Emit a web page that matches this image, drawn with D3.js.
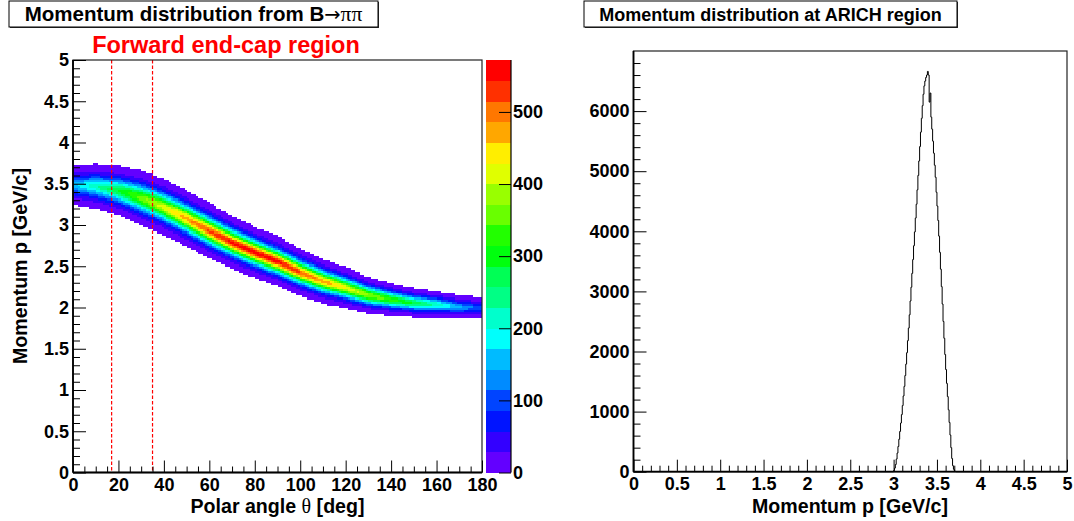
<!DOCTYPE html>
<html><head><meta charset="utf-8">
<script src="https://cdn.jsdelivr.net/npm/d3@7"></script>
<style>
body{margin:0;background:#fff}
svg text{font-family:"Liberation Sans",Arial,Helvetica,sans-serif;font-weight:bold;fill:#000}
</style>
</head><body>
<svg id="c" width="1074" height="521"></svg>
<script>
// ---------------- data ----------------
// Left: 2D histogram p vs theta, described column by column
const thetaNodes   = [0,10,20,30,40,50,60,70,80,90,100,110,120,130,140,150,160,170,180];
const ridgeMomentum= [3.485,3.47,3.42,3.33,3.22,3.08,2.93,2.79,2.67,2.56,2.43,2.32,2.24,2.15,2.10,2.06,2.04,2.01,2.00];
const bandHalfWidth= [0.235,0.27,0.30,0.33,0.34,0.34,0.335,0.32,0.31,0.30,0.285,0.27,0.245,0.22,0.195,0.175,0.16,0.14,0.13];
const peakCounts   = [160,220,290,360,420,480,520,550,560,555,520,480,430,380,330,280,220,150,90];
const thetaBinWidth = 1;      // deg
const pBinWidth = 0.025;      // GeV/c
const edgeCount = 4;          // lowest visible bin content
const zMax = 572;
const nLevels = 20;
const forwardCut = [17, 35];

const thetaMajor = [0,20,40,60,80,100,120,140,160,180];
const pMajor = [0,0.5,1,1.5,2,2.5,3,3.5,4,4.5,5];
const zMajor = [0,100,200,300,400,500];

// Right: 1D histogram of momentum in ARICH region
const arichStart = 3.00, arichWidth = 0.01;
const arichCounts = [20,60,120,210,310,420,540,670,810,950,
  1100,1260,1420,1600,1790,1980,2180,2390,2610,2840,
  3070,3300,3530,3760,3990,4220,4450,4690,4930,5170,
  5410,5650,5880,6090,6280,6420,6500,6560,6600,6660,
  6600,6150,6300,5900,5700,5500,5300,5100,4900,4650,
  4420,4180,3920,3650,3370,3080,2790,2500,2220,1950,
  1700,1470,1250,1030,820,610,400,220,100,40,12,3];
const momMajor = [0,0.5,1,1.5,2,2.5,3,3.5,4,4.5,5];
const countMajor = [0,1000,2000,3000,4000,5000,6000];

// ---------------- drawing ----------------
const svg = d3.select('#c');
const FONT = 18;

function styleAxis(g, size){
  g.select('.domain').remove();
  g.selectAll('text').attr('font-size', size).attr('font-family','"Liberation Sans",Arial,sans-serif').attr('font-weight','bold').attr('fill','#000');
  g.selectAll('line').attr('stroke','#000').attr('stroke-width',1);
  g.attr('font-size',null).attr('font-family',null);
}
function minorAxis(g){
  g.select('.domain').remove();
  g.selectAll('text').remove();
  g.selectAll('line').attr('stroke','#000').attr('stroke-width',1);
}
function range(a,b,s){const r=[];for(let v=a;v<=b+1e-9;v+=s)r.push(+v.toFixed(6));return r;}
const notHalf = v=>Math.abs(v*2-Math.round(v*2))>1e-6;

// ----- Left pad -----
const L = {x0:73, x1:482, y0:60, y1:472.5};
const xL = d3.scaleLinear([0,180],[L.x0,L.x1]);
const yL = d3.scaleLinear([0,5],[L.y1,L.y0]);
const ridgeS = d3.scaleLinear(thetaNodes, ridgeMomentum);
const hwS = d3.scaleLinear(thetaNodes, bandHalfWidth);
const peakS = d3.scaleLinear(thetaNodes, peakCounts);
const levelStep = zMax/nLevels;
function levelColor(level){
  const idx = Math.floor((level+0.99)*50/nLevels);
  const hue = 280 - (idx+1)*(280/50);
  return d3.hsl(hue,1,0.5).formatHex();
}
const K = 1.8; // profile shape across the band
const cells = [];
for (let t=0; t<180; t+=thetaBinWidth){
  const tc = t + thetaBinWidth/2;
  const c = ridgeS(tc), hw = hwS(tc), pk = peakS(tc);
  const s = hw/Math.pow(Math.log(pk/edgeCount),1/K);
  for (let j=0;j<200;j++){
    const plo = j*pBinWidth, pc = plo + pBinWidth/2;
    const v = pk*Math.exp(-Math.pow(Math.abs(pc-c)/s,K));
    if (v>=edgeCount) cells.push({t, plo, v});
  }
}
svg.append('g').attr('shape-rendering','crispEdges').selectAll('rect').data(cells).join('rect')
  .attr('x', d=>xL(d.t)).attr('y', d=>yL(d.plo+pBinWidth))
  .attr('width', d=>xL(d.t+thetaBinWidth)-xL(d.t)+0.3)
  .attr('height', d=>yL(d.plo)-yL(d.plo+pBinWidth)+0.3)
  .attr('fill', d=>levelColor(Math.min(nLevels-1, Math.floor(d.v/levelStep))));

// dashed cut lines
svg.append('g').selectAll('line').data(forwardCut).join('line')
  .attr('x1', d=>xL(d)).attr('x2', d=>xL(d)).attr('y1', L.y0).attr('y2', L.y1)
  .attr('stroke','#ff0000').attr('stroke-width',1.2).attr('stroke-dasharray','3.5,2');

// frame
svg.append('rect').attr('x',L.x0).attr('y',L.y0).attr('width',L.x1-L.x0).attr('height',L.y1-L.y0)
  .attr('fill','none').attr('stroke','#222').attr('stroke-width',1.2);

// axes
svg.append('g').attr('transform',`translate(0,${L.y1})`)
  .call(d3.axisBottom(xL).tickValues(range(0,180,5).filter(v=>v%20!==0)).tickSize(-6))
  .call(minorAxis);
svg.append('g').attr('transform',`translate(0,${L.y1})`)
  .call(d3.axisBottom(xL).tickValues(thetaMajor).tickSize(-12).tickPadding(5.5).tickFormat(d3.format('d')))
  .call(g=>styleAxis(g,FONT));
svg.append('g').attr('transform',`translate(${L.x0},0)`)
  .call(d3.axisLeft(yL).tickValues(range(0,5,0.1).filter(notHalf)).tickSize(-7))
  .call(minorAxis);
svg.append('g').attr('transform',`translate(${L.x0},0)`)
  .call(d3.axisLeft(yL).tickValues(pMajor).tickSize(-13).tickPadding(4).tickFormat(d3.format('~g')))
  .call(g=>styleAxis(g,FONT));
svg.append('line').attr('x1',L.x0).attr('x2',L.x0).attr('y1',L.y0).attr('y2',L.y1).attr('stroke','#000').attr('stroke-width',1.8);
svg.append('line').attr('x1',L.x0).attr('x2',L.x1).attr('y1',L.y1).attr('y2',L.y1).attr('stroke','#000').attr('stroke-width',1.8);

// palette
const P = {x0:486, x1:511};
const zS = d3.scaleLinear([0,zMax],[L.y1,L.y0]);
svg.append('g').attr('shape-rendering','crispEdges').selectAll('rect').data(d3.range(nLevels)).join('rect')
  .attr('x',P.x0).attr('width',P.x1-P.x0)
  .attr('y', d=>zS((d+1)*levelStep)).attr('height', d=>zS(d*levelStep)-zS((d+1)*levelStep)+0.4)
  .attr('fill', d=>levelColor(d));
svg.append('g').attr('transform',`translate(${P.x1},0)`)
  .call(d3.axisRight(zS).tickValues(zMajor).tickSize(-12).tickPadding(2).tickFormat(d3.format('d')))
  .call(g=>styleAxis(g,FONT));
svg.append('line').attr('x1',P.x1).attr('x2',P.x1).attr('y1',L.y0).attr('y2',L.y1).attr('stroke','#000').attr('stroke-width',1.2);

// titles left
svg.append('rect').attr('x',10).attr('y',2).attr('width',369).attr('height',26).attr('fill','#333');
svg.append('rect').attr('x',9).attr('y',1).attr('width',369).attr('height',26).attr('fill','#fff').attr('stroke','#000').attr('stroke-width',1);
const t1 = svg.append('text').attr('x',193.5).attr('y',21).attr('text-anchor','middle').attr('font-size',20.5);
t1.append('tspan').text('Momentum distribution from B');
t1.append('tspan').attr('font-family','"DejaVu Sans",sans-serif').attr('font-weight','normal').attr('font-size',19.5).text('\u2192');
t1.append('tspan').attr('font-family','"Liberation Serif","DejaVu Serif",serif').attr('font-weight','normal').attr('font-size',21.5).text('\u03c0\u03c0');
svg.append('text').attr('x',226).attr('y',52.5).attr('text-anchor','middle').attr('font-size',23.5).style('fill','#ff0000').text('Forward end-cap region');
svg.append('text').attr('x',277.5).attr('y',512.5).attr('text-anchor','middle').attr('font-size',19.6)
  .html('Polar angle <tspan font-family="Liberation Serif, DejaVu Serif, serif" font-weight="normal" font-size="20"> \u03b8</tspan> [deg]');
svg.append('text').attr('transform','translate(27,266) rotate(-90)').attr('text-anchor','middle').attr('font-size',19.6).text('Momentum p [GeV/c]');

// ----- Right pad -----
const R = {x0:633.5, x1:1067, y0:51, y1:471.7};
const xR = d3.scaleLinear([0,5],[R.x0,R.x1]);
const yR = d3.scaleLinear([0,7000],[R.y1,R.y0]);
svg.append('rect').attr('x',R.x0).attr('y',R.y0).attr('width',R.x1-R.x0).attr('height',R.y1-R.y0)
  .attr('fill','none').attr('stroke','#222').attr('stroke-width',1.2);

const pts = [[0,0],[arichStart,0]];
arichCounts.forEach((c,k)=>{const lo=arichStart+k*arichWidth; pts.push([lo,c],[lo+arichWidth,c]);});
pts.push([arichStart+arichCounts.length*arichWidth,0],[5,0]);
svg.append('path').datum(pts).attr('fill','none').attr('stroke','#000').attr('stroke-width',1)
  .attr('d', d3.line().x(d=>xR(d[0])).y(d=>yR(d[1])));

svg.append('g').attr('transform',`translate(0,${R.y1})`)
  .call(d3.axisBottom(xR).tickValues(range(0,5,0.1).filter(notHalf)).tickSize(-6))
  .call(minorAxis);
svg.append('g').attr('transform',`translate(0,${R.y1})`)
  .call(d3.axisBottom(xR).tickValues(momMajor).tickSize(-12).tickPadding(5.5).tickFormat(d3.format('~g')))
  .call(g=>styleAxis(g,FONT));
svg.append('g').attr('transform',`translate(${R.x0},0)`)
  .call(d3.axisLeft(yR).tickValues(range(0,6800,200).filter(v=>v%1000!==0)).tickSize(-7))
  .call(minorAxis);
svg.append('g').attr('transform',`translate(${R.x0},0)`)
  .call(d3.axisLeft(yR).tickValues(countMajor).tickSize(-13).tickPadding(4).tickFormat(d3.format('d')))
  .call(g=>styleAxis(g,FONT));
svg.append('line').attr('x1',R.x0).attr('x2',R.x0).attr('y1',R.y0).attr('y2',R.y1).attr('stroke','#000').attr('stroke-width',1.8);
svg.append('line').attr('x1',R.x0).attr('x2',R.x1).attr('y1',R.y1).attr('y2',R.y1).attr('stroke','#000').attr('stroke-width',1.8);

svg.append('rect').attr('x',585).attr('y',2).attr('width',373).attr('height',26).attr('fill','#333');
svg.append('rect').attr('x',584).attr('y',1).attr('width',373).attr('height',26).attr('fill','#fff').attr('stroke','#000').attr('stroke-width',1);
svg.append('text').attr('x',770.5).attr('y',21).attr('text-anchor','middle').attr('font-size',18).text('Momentum distribution at ARICH region');
svg.append('text').attr('x',850).attr('y',512.5).attr('text-anchor','middle').attr('font-size',19.6).text('Momentum p [GeV/c]');
</script>
</body></html>
